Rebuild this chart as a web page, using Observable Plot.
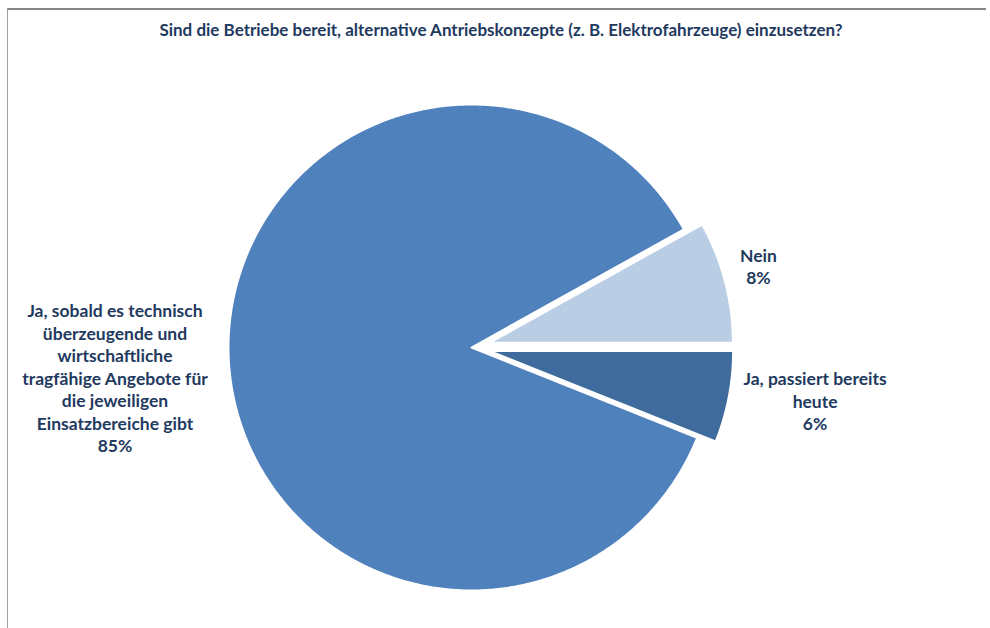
<!DOCTYPE html>
<html><head><meta charset="utf-8">
<script src="https://cdn.jsdelivr.net/npm/d3@7"></script>
<script src="https://cdn.jsdelivr.net/npm/@observablehq/plot@0.6"></script>
<style>
body{margin:0;background:#fff;}
#wrap{position:relative;width:990px;height:628px;overflow:hidden;font-family:Lato,"Open Sans",sans-serif;}
#frame{position:absolute;left:7px;top:8px;width:978px;height:640px;border-top:2px solid #858585;border-left:1px solid #a0a0a0;}
#title{position:absolute;top:19px;left:0;width:1002px;text-align:center;font-weight:700;font-size:17px;color:#1f3a5f;}
#chart{position:absolute;left:0;top:48px;}
</style></head><body>
<div id="wrap"><div id="frame"></div><div id="title"></div><div id="chart"></div></div>
<script>
const title = "Sind die Betriebe bereit, alternative Antriebskonzepte (z. B. Elektrofahrzeuge) einzusetzen?";
const categories = ["Ja, passiert bereits heute", "Nein", "Ja, sobald es technisch überzeugende und wirtschaftliche tragfähige Angebote für die jeweiligen Einsatzbereiche gibt"];
const values = [6, 8, 85];
const labelLines = [
  ["Ja, passiert bereits", "heute"],
  ["Nein"],
  ["Ja, sobald es technisch", "überzeugende und", "wirtschaftliche", "tragfähige Angebote für", "die jeweiligen", "Einsatzbereiche gibt"]
];
const colors = ["#3f6a9c", "#b9cde5", "#4f81bd"];

// layout
const W = 990, H = 580, cx = 471, cy = 299, R = 243;
const explode = [0.078, 0.078, 0];
const labelRadius = [1.44, 1.22, 1.47];
const labelDy = [0.055, 0.03, -0.03];

document.getElementById("title").textContent = title;

const total = d3.sum(values);
let a = -2 * Math.PI * values[0] / total; // first slice ends at 0 (3 o'clock)
const polys = [];
const labels = [];
categories.forEach((c, i) => {
  const a0 = a, a1 = a + 2 * Math.PI * values[i] / total;
  a = a1;
  const mid = (a0 + a1) / 2;
  const ox = explode[i] * Math.cos(mid), oy = explode[i] * Math.sin(mid);
  polys.push({cat: c, x: ox, y: oy});
  const n = Math.ceil((a1 - a0) / (Math.PI / 360));
  for (let k = 0; k <= n; k++) {
    const t = a0 + (a1 - a0) * k / n;
    polys.push({cat: c, x: ox + Math.cos(t), y: oy + Math.sin(t)});
  }
  labels.push({
    x: labelRadius[i] * Math.cos(mid),
    y: labelRadius[i] * Math.sin(mid) + labelDy[i],
    text: [...labelLines[i], values[i] + "%"].join("\n")
  });
});

const plot = Plot.plot({
  width: W, height: H,
  margin: 0,
  style: {fontFamily: "Lato, 'Open Sans', sans-serif", background: "transparent"},
  x: {domain: [-cx / R, (W - cx) / R], axis: null},
  y: {domain: [-(H - cy) / R, cy / R], axis: null},
  color: {domain: categories, range: colors},
  marks: [
    Plot.line(polys, {x: "x", y: "y", z: "cat", fill: "cat", stroke: "white", strokeWidth: 2, curve: "linear-closed"}),
    Plot.text(labels, {x: "x", y: "y", text: "text", fill: "#1f3a5f", fontSize: 17.5, fontWeight: "bold", lineHeight: 1.29, textAnchor: "middle", lineAnchor: "middle"})
  ]
});
document.getElementById("chart").appendChild(plot);
</script>
</body></html>
